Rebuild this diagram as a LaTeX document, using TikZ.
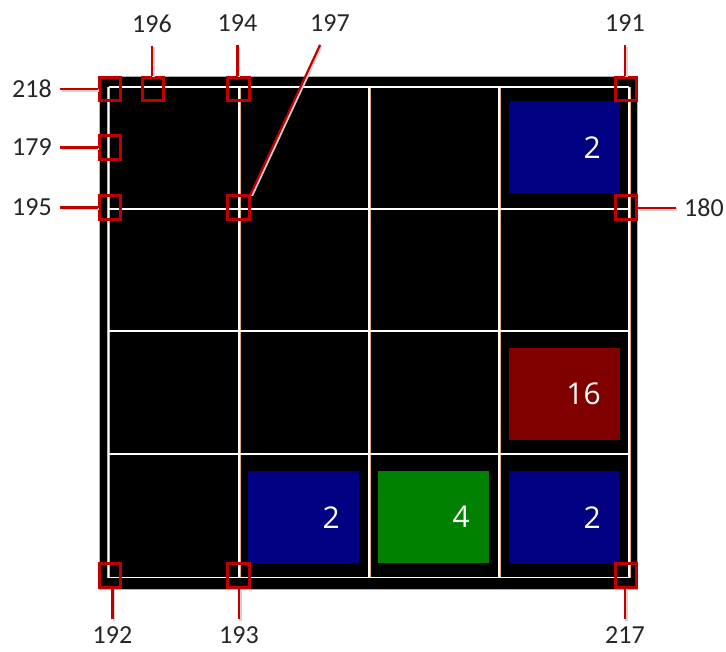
\documentclass[tikz,border=0pt]{standalone}
\usepackage{fontspec}
\usepackage{xcolor}
\usepackage{tikz}
\usetikzlibrary{positioning}
\newfontfamily\labelfont{Carlito}
\newfontfamily\tilefont{Open Sans}
\definecolor{MarkRed}{RGB}{192,0,0}
\definecolor{TileBlue}{RGB}{0,0,128}
\definecolor{TileGreen}{RGB}{0,128,0}
\definecolor{TileRed}{RGB}{128,0,0}
\definecolor{EdgeBlue}{RGB}{150,190,235}
\definecolor{EdgeOrange}{RGB}{225,170,115}

\begin{document}
\begin{tikzpicture}[
x=1pt, y=-1pt,
marker/.style={
draw=MarkRed,
line width=2.6pt,
minimum width=21.5pt,
minimum height=23.5pt,
inner sep=0pt
},
leader/.style={
draw=MarkRed,
line width=2.2pt,
preaction={draw=black!18, line width=2.2pt, transform canvas={shift={(1.4pt,-1.4pt)}}}
},
numlabel/.style={
font=\labelfont\fontsize{26}{26}\selectfont,
text=black!85,
inner sep=0pt
},
tile/.style={
minimum width=111pt,
minimum height=92pt,
inner sep=0pt,
text width=72pt,
align=right,
anchor=north west,
text=white,
font=\tilefont\fontsize{30}{30}\selectfont
},
cellline/.style={white, line width=1.6pt}
]
\useasboundingbox (0,0) rectangle (726,651);

% board
\fill[black, draw=gray!60, line width=0.8pt] (99,76) rectangle (637,589);
\foreach \gx in {108.5,239,369,499,629} {
  \draw[EdgeBlue, line width=0.45pt] (\gx-1.2,87) -- (\gx-1.2,577.5);
  \draw[EdgeOrange, line width=0.45pt] (\gx+1.2,87) -- (\gx+1.2,577.5);
  \draw[cellline] (\gx,87) -- (\gx,577.5);
}
\foreach \gy in {87,209,331,454,577.5}
  \draw[cellline] (108.5,\gy) -- (629,\gy);

% tiles
\node[tile, fill=TileBlue] (t1) at (509,101) {2};
\node[tile, fill=TileRed] (t2) at (509,348) {16};
\node[tile, fill=TileBlue] (t3) at (248,471) {2};
\node[tile, fill=TileGreen] (t4) at (378,471) {4};
\node[tile, fill=TileBlue] (t5) at (509,471) {2};

% markers
\node[marker] (m218) at (110,89) {};
\node[marker] (m196) at (153,89) {};
\node[marker] (m194) at (238.5,89) {};
\node[marker] (m191) at (626,89) {};
\node[marker] (m179) at (110,147.5) {};
\node[marker] (m195) at (110,207.5) {};
\node[marker] (m197) at (238.5,207.5) {};
\node[marker] (m180) at (626,207.5) {};
\node[marker] (m192) at (110,575.5) {};
\node[marker] (m193) at (238.5,575.5) {};
\node[marker] (m217) at (626,575.5) {};

% labels
\node[numlabel] (l218) at (32,89) {218};
\node[numlabel] (l179) at (32,147.5) {179};
\node[numlabel] (l195) at (32,207.5) {195};
\node[numlabel] (l196) at (152,23.5) {196};
\node[numlabel] (l194) at (237.5,23.5) {194};
\node[numlabel] (l197) at (330,23.5) {197};
\node[numlabel] (l191) at (625,23.5) {191};
\node[numlabel] (l180) at (704,208) {180};
\node[numlabel] (l192) at (112.5,635) {192};
\node[numlabel] (l193) at (239,635) {193};
\node[numlabel] (l217) at (625,635) {217};

% leaders
\draw[leader, shorten <=8.5pt] (l218) -- (m218);
\draw[leader, shorten <=8.5pt] (l179) -- (m179);
\draw[leader, shorten <=8.5pt] (l195) -- (m195);
\draw[leader, shorten <=13pt] (l196) -- (l196 |- m196.north);
\draw[leader, shorten <=13pt] (l194) -- (l194 |- m194.north);
\draw[leader, shorten <=13pt] (l191) -- (l191 |- m191.north);
\draw[leader, shorten <=14pt] (l197) -- (m197.north east);
\draw[leader, shorten <=8pt] (l180) -- (l180 -| m180.east);
\draw[leader, shorten <=7pt] (l192) -- (l192 |- m192.south);
\draw[leader, shorten <=7pt] (l193) -- (l193 |- m193.south);
\draw[leader, shorten <=7pt] (l217) -- (l217 |- m217.south);
\end{tikzpicture}
\end{document}
